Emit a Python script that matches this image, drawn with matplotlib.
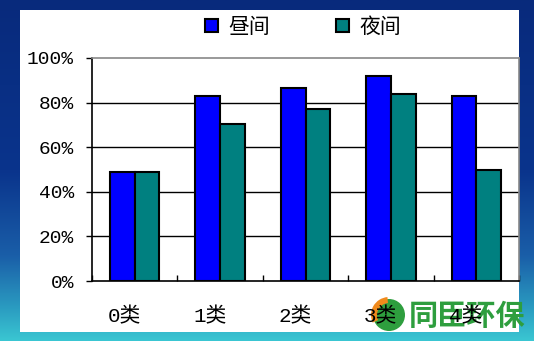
import matplotlib.pyplot as plt
import numpy as np
from matplotlib.patches import Rectangle, Circle, Wedge
from matplotlib.colors import LinearSegmentedColormap
from matplotlib.transforms import IdentityTransform

# categories and values (%)
categories = ['0类', '1类', '2类', '3类', '4类']
day = [49, 83, 86.5, 92, 83]     # 昼间
night = [49, 70.5, 77, 84, 50]   # 夜间
y_ticks = [0, 20, 40, 60, 80, 100]

fonts = ['Liberation Mono', 'Noto Sans CJK SC']
plt.rcParams['font.family'] = fonts

W, H = 534, 341
fig = plt.figure(figsize=(W / 100, H / 100), dpi=100)

# background gradient
bg = fig.add_axes([0, 0, 1, 1], zorder=-10)
cmap = LinearSegmentedColormap.from_list('bg', [(0, '#082a7c'), (0.5, '#0a348c'),
                                                (0.75, '#1a5ea8'), (0.9, '#2a9ac0'),
                                                (1, '#3ac6d2')])
grad = np.linspace(0, 1, 256).reshape(-1, 1)
bg.imshow(grad, aspect='auto', cmap=cmap, extent=[0, 1, 0, 1], origin='upper')
bg.add_patch(Rectangle((20 / W, 9 / H), 499 / W, 322 / H, facecolor='white',
                       edgecolor='none', transform=bg.transAxes))
bg.set_xlim(0, 1)
bg.set_ylim(0, 1)
bg.axis('off')

# watermark logo (under the tick labels)
cx, cy = 389, H - 315
bg.add_patch(Circle((cx, cy), 16, facecolor='#2e9e3e', edgecolor='none',
                    transform=IdentityTransform()))
bg.add_patch(Wedge((cx, cy), 18, 95, 205, width=6, facecolor='#f08a1c',
                   edgecolor='none', transform=IdentityTransform()))
bg.text(409 / W, 1 - 316 / H, '同臣环保', color='#2e9e3e', fontsize=21,
        fontweight='bold', ha='left', va='center', family=['Noto Sans CJK SC'],
        transform=bg.transAxes)

ax = fig.add_axes([92 / W, 60 / H, 427 / W, 223 / H])
x = np.arange(len(categories))
w = 0.29
ax.bar(x - w / 2, day, w, color='#0000ff', edgecolor='black', linewidth=1.5,
       label='昼间', zorder=3)
ax.bar(x + w / 2, night, w, color='#008080', edgecolor='black', linewidth=1.5,
       label='夜间', zorder=3)

ax.set_xlim(-0.5, len(categories) - 0.5)
ax.set_ylim(0, 100)
ax.set_yticks(y_ticks)
ax.set_yticklabels([f'{t}%' for t in y_ticks], fontsize=14)
for t in y_ticks[1:-1]:
    ax.axhline(t, color='black', linewidth=1, zorder=1)

# labels sit a little left of the category centres
ax.set_xticks(x - 0.12)
ax.set_xticklabels(categories, fontsize=15)
ax.set_xticks(np.arange(-0.5, len(categories)), minor=True)
ax.tick_params(axis='x', which='major', length=0, pad=19)
ax.tick_params(axis='x', which='minor', direction='in', length=4, width=1)
ax.tick_params(axis='y', direction='out', length=4, width=1, pad=9)

for s in ['left', 'bottom']:
    ax.spines[s].set_color('black')
    ax.spines[s].set_linewidth(1.2)
for s in ['top', 'right']:
    ax.spines[s].set_color('#888888')
    ax.spines[s].set_linewidth(1.2)

fig.legend(loc='center', bbox_to_anchor=(303 / W, 1 - 27 / H), ncol=2, frameon=False,
           prop={'family': ['Noto Sans CJK SC'], 'size': 15, 'weight': 'light'},
           handlelength=0.6, handleheight=0.6, handletextpad=0.5,
           columnspacing=3.2)

fig.savefig('out.png', dpi=100)
